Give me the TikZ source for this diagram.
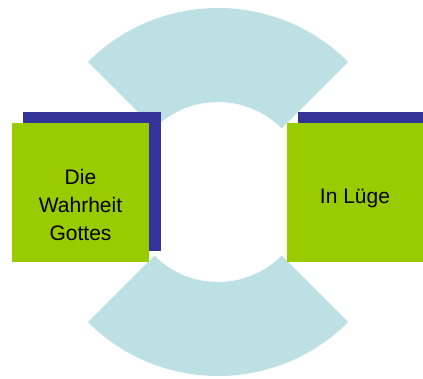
\documentclass[tikz,border=0pt]{standalone}
\usepackage{fontspec}
\setmainfont{Liberation Sans}
\definecolor{ringblue}{HTML}{BDE0E4}
\definecolor{boxgreen}{HTML}{99CC00}
\definecolor{shadowblue}{HTML}{333399}
\tikzset{
  sector/.style={fill=ringblue, draw=none},
  shadowbox/.style={fill=shadowblue, draw=none, minimum width=138pt, minimum height=139pt, inner sep=0pt, outer sep=0pt},
  greenbox/.style={fill=boxgreen, draw=none, minimum width=137pt, minimum height=139pt, inner sep=0pt, outer sep=0pt},
  label/.style={font=\fontsize{21}{28}\selectfont, align=center, inner sep=0pt, text=black}
}
\begin{document}
\begin{tikzpicture}[x=1pt,y=1pt]
\useasboundingbox (0,0) rectangle (423,378);
\clip (0,0) rectangle (423,378);
\coordinate (c) at (218,186);
% ring sectors
\fill[sector] ([shift={(45:184)}]c) arc[start angle=45, end angle=135, radius=184]
  -- ([shift={(135:90)}]c) arc[start angle=135, end angle=45, radius=90] -- cycle;
\fill[sector] ([shift={(225:184)}]c) arc[start angle=225, end angle=315, radius=184]
  -- ([shift={(315:90)}]c) arc[start angle=315, end angle=225, radius=90] -- cycle;
% left box
\node[shadowbox] (lsh) at (92,196.5) {};
\node[greenbox] (lbox) at (80.5,185.5) {};
\node[label] (ltext) at (80.5,173.5) {Die\\Wahrheit\\Gottes};
% right box
\node[shadowbox] (rsh) at (367,196.5) {};
\node[greenbox] (rbox) at (355.5,185.5) {};
\node[label, anchor=base] (rtext) at (355,175) {In Lüge};
\end{tikzpicture}
\end{document}
